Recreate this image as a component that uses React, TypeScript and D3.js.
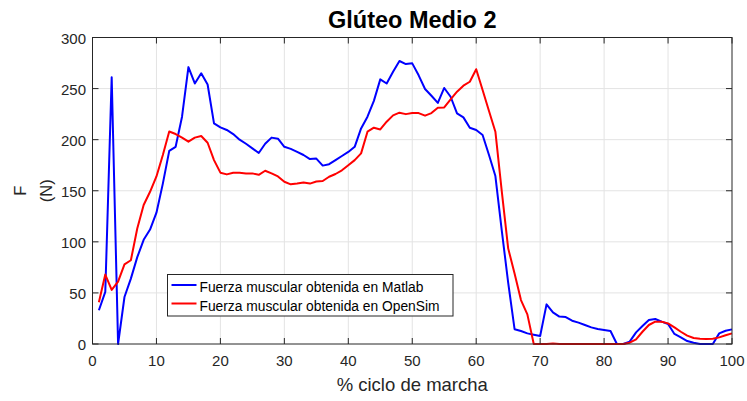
import React from "react";
import * as d3 from "d3";

const xValues: number[] = d3.range(1, 101);
const matlab: number[] = [
  33, 51, 261, 0, 46, 64, 85, 102, 112, 128.5,
  157, 189, 193, 222.5, 271, 255, 265, 254, 216, 212,
  209.5, 205.5, 200, 196, 191.5, 187, 196, 202, 201, 193,
  191, 188, 185, 181, 181.5, 174.6, 176, 180, 184, 188,
  193, 211, 222.5, 238, 259, 255, 266.5, 277, 274, 274.7,
  263, 249.6, 243, 236, 250.6, 242, 225.8, 221.8, 211.7, 209.5,
  204.6, 185, 164.4, 111, 60, 14.5, 12.7, 10.4, 9.1, 7.8,
  38.8, 31, 26.8, 26.4, 22.8, 20.9, 18.6, 16.3, 14.7, 13.7,
  12.7, 0, 0, 2.3, 11.4, 17.6, 23.5, 24.5, 21.9, 19.6,
  9.8, 6.5, 2.9, 1.3, 0, 0, 0, 10.4, 13, 14.3,
];
const opensim: number[] = [
  40.8, 68, 53, 61, 78, 82, 113, 136, 149, 164,
  185, 208, 205.5, 202, 198, 202, 203.6, 197, 180, 167.7,
  166, 167.7, 167.7, 167, 167, 165.6, 169.6, 167, 164, 158.8,
  156.3, 157, 158, 157, 159, 159.5, 163.7, 166.4, 170, 175,
  180, 186.6, 207.8, 211.7, 210, 217.6, 223.8, 226.4, 225, 226,
  226, 223.5, 226, 231.3, 231.6, 239.5, 247, 252.8, 256.7, 269,
  248.6, 228, 207.8, 149.4, 93.6, 69, 43, 29, 0, 0,
  0, 0.5, 0, 0, 0, 0, 0, 0, 0, 0,
  0, 0, 0, 1.3, 4.6, 12, 18.6, 21.8, 21.8, 20.2,
  16.3, 12, 8.2, 5.9, 5.2, 4.9, 5.2, 6.5, 8.5, 10.4,
];
const xTicks: number[] = [0, 10, 20, 30, 40, 50, 60, 70, 80, 90, 100];
const yTicks: number[] = [0, 50, 100, 150, 200, 250, 300];
const seriesNames: string[] = [
  "Fuerza muscular obtenida en Matlab",
  "Fuerza muscular obtenida en OpenSim",
];
const seriesColors: string[] = ["#0000ff", "#ff0000"];
const title = "Glúteo Medio 2";
const xLabel = "% ciclo de marcha";
const yLabelLines: string[] = ["F", "(N)"];

const W = 747;
const H = 401;
const left = 92.5;
const right = 732;
const top = 37.5;
const bottom = 344;
const axisColor = "#262626";
const font = "'Liberation Sans', Arial, sans-serif";

export default function App() {
  const x = d3.scaleLinear().domain([0, 100]).range([left, right]);
  const y = d3.scaleLinear().domain([0, 300]).range([bottom, top]);
  const line = d3
    .line<number>()
    .x((_, i) => x(xValues[i]))
    .y((d) => y(d));
  const tick = 6;
  const series = [matlab, opensim];
  const legX = 167.5;
  const legY = 274.5;
  const legW = 285.5;
  const legH = 41.5;
  const yLabelX = [25.5, 51.5];

  return (
    <svg
      width={W}
      height={H}
      style={{ position: "absolute", left: 0, top: 0, background: "#fff" }}
      fontFamily={font}
    >
      <rect x={0} y={0} width={W} height={H} fill="#fff" />
      {/* grid */}
      {xTicks.slice(1, -1).map((t) => (
        <line key={"gx" + t} x1={x(t)} x2={x(t)} y1={top} y2={bottom} stroke="#e3e3e3" strokeWidth={1} />
      ))}
      {yTicks.slice(1, -1).map((t) => (
        <line key={"gy" + t} x1={left} x2={right} y1={y(t)} y2={y(t)} stroke="#e3e3e3" strokeWidth={1} />
      ))}
      {/* series */}
      {series.map((s, i) => (
        <path key={"s" + i} d={line(s) || ""} fill="none" stroke={seriesColors[i]} strokeWidth={2} strokeLinejoin="round" />
      ))}
      {/* box */}
      <rect x={left} y={top} width={right - left} height={bottom - top} fill="none" stroke={axisColor} strokeWidth={1} />
      {xTicks.map((t) => (
        <g key={"tx" + t}>
          <line x1={x(t)} x2={x(t)} y1={bottom} y2={bottom - tick} stroke={axisColor} />
          <line x1={x(t)} x2={x(t)} y1={top} y2={top + tick} stroke={axisColor} />
          <text x={x(t)} y={bottom + 22} textAnchor="middle" fontSize={15} fill={axisColor}>
            {t}
          </text>
        </g>
      ))}
      {yTicks.map((t) => (
        <g key={"ty" + t}>
          <line x1={left} x2={left + tick} y1={y(t)} y2={y(t)} stroke={axisColor} />
          <line x1={right} x2={right - tick} y1={y(t)} y2={y(t)} stroke={axisColor} />
          <text x={left - 6.5} y={y(t) + 6} textAnchor="end" fontSize={15} fill={axisColor}>
            {t}
          </text>
        </g>
      ))}
      {/* title */}
      <text x={(left + right) / 2} y={28} textAnchor="middle" fontSize={23.5} fontWeight="bold" fill="#000">
        {title}
      </text>
      {/* x label */}
      <text x={(left + right) / 2} y={391} textAnchor="middle" fontSize={18.5} fill={axisColor}>
        {xLabel}
      </text>
      {/* y label */}
      {yLabelLines.map((l, i) => (
        <text
          key={"yl" + i}
          transform={`translate(${yLabelX[i]},${(top + bottom) / 2}) rotate(-90)`}
          textAnchor="middle"
          fontSize={16.5}
          fill={axisColor}
        >
          {l}
        </text>
      ))}
      {/* legend */}
      <rect x={legX} y={legY} width={legW} height={legH} fill="#fff" stroke={axisColor} strokeWidth={1} />
      {seriesNames.map((n, i) => (
        <g key={"lg" + i}>
          <line x1={legX + 4} x2={legX + 29} y1={legY + 10.5 + i * 18.5} y2={legY + 10.5 + i * 18.5} stroke={seriesColors[i]} strokeWidth={2} />
          <text x={legX + 32} y={legY + 17.5 + i * 18.5} fontSize={13.8} fill="#000">
            {n}
          </text>
        </g>
      ))}
    </svg>
  );
}
